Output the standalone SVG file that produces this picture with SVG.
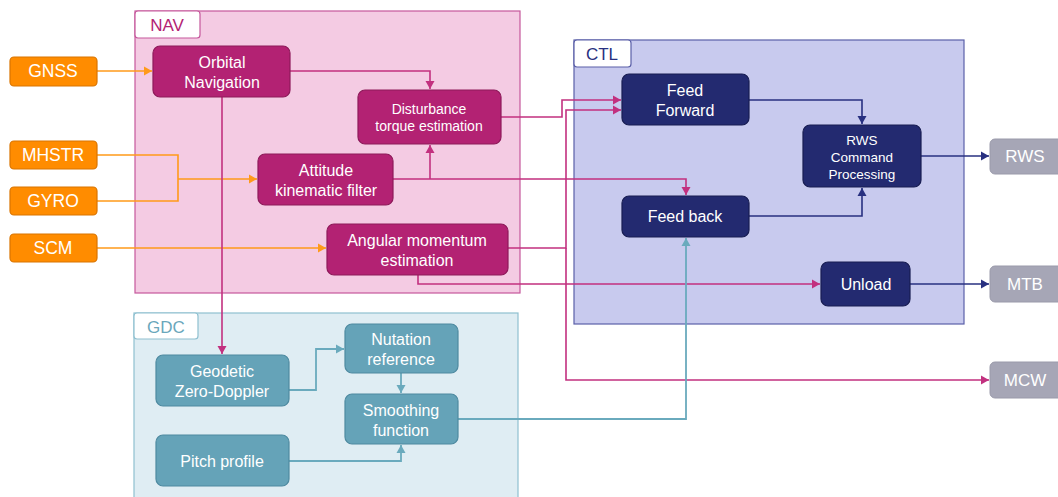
<svg xmlns="http://www.w3.org/2000/svg" width="1058" height="497" viewBox="0 0 1058 497">
<style>
text{font-family:"Liberation Sans",Arial,sans-serif;fill:#fff;text-anchor:middle;dominant-baseline:central}
.nav{fill:#b32273;stroke:#8e1a5a;stroke-width:1.2}
.ctl{fill:#232a70;stroke:#181d52;stroke-width:1.2}
.gdc{fill:#65a3b8;stroke:#4e8aa0;stroke-width:1.2}
.inp{fill:#ff8c00;stroke:#d97400;stroke-width:1.2}
.out{fill:#a6a6b6;stroke:#9a9aaa;stroke-width:1}
.t16{font-size:16px}
.t14{font-size:14px}
.t13{font-size:13.5px}
.t17{font-size:17.5px}
.tl{font-size:17px}
.cm{fill:none;stroke:#c2307f;stroke-width:1.6}
.co{fill:none;stroke:#ff9a1a;stroke-width:1.6}
.cn{fill:none;stroke:#283080;stroke-width:1.6}
.cg{fill:none;stroke:#6aaabd;stroke-width:1.8}
</style>
<defs>
<marker id="am" markerUnits="userSpaceOnUse" markerWidth="10" markerHeight="10" refX="8" refY="5" orient="auto"><path d="M0,0.5 L8,5 L0,9.5 Z" fill="#c2307f"/></marker>
<marker id="ao" markerUnits="userSpaceOnUse" markerWidth="10" markerHeight="10" refX="8" refY="5" orient="auto"><path d="M0,0.5 L8,5 L0,9.5 Z" fill="#ff9a1a"/></marker>
<marker id="an" markerUnits="userSpaceOnUse" markerWidth="10" markerHeight="10" refX="8" refY="5" orient="auto"><path d="M0,0.5 L8,5 L0,9.5 Z" fill="#283080"/></marker>
<marker id="ag" markerUnits="userSpaceOnUse" markerWidth="10" markerHeight="10" refX="8" refY="5" orient="auto"><path d="M0,0.5 L8,5 L0,9.5 Z" fill="#6aaabd"/></marker>
</defs>

<g id="NAV-group">
<rect x="135" y="11" width="385" height="282" fill="#f4cbe3" stroke="#c5589c" stroke-width="1.2"/>
<rect x="135" y="11" width="65" height="27" rx="3" fill="#fff" stroke="#c5589c" stroke-width="1.2"/>
<text x="167" y="25" class="tl" style="fill:#b32273">NAV</text>
</g>
<g id="CTL-group">
<rect x="574" y="40" width="390" height="284" fill="#c8caee" stroke="#5a5fa8" stroke-width="1.2"/>
<rect x="574" y="40" width="57" height="27" rx="3" fill="#fff" stroke="#5a5fa8" stroke-width="1.2"/>
<text x="602" y="54" class="tl" style="fill:#283080">CTL</text>
</g>
<g id="GDC-group">
<rect x="134" y="313" width="384" height="190" fill="#dfedf3" stroke="#8fc0d0" stroke-width="1.2"/>
<rect x="134" y="313" width="64" height="26" rx="3" fill="#fff" stroke="#8fc0d0" stroke-width="1.2"/>
<text x="166" y="327" class="tl" style="fill:#6aa7bb">GDC</text>
</g>

<g id="connectors">
<path class="co" d="M97,71 H152" marker-end="url(#ao)"/>
<path class="co" d="M97,155 H178 V201 H97"/>
<path class="co" d="M178,179 H257" marker-end="url(#ao)"/>
<path class="co" d="M97,248 H326" marker-end="url(#ao)"/>
<path class="cm" d="M290,71 H430 V89" marker-end="url(#am)"/>
<path class="cm" d="M393,179 H686 V195" marker-end="url(#am)"/>
<path class="cm" d="M430,179 V145" marker-end="url(#am)"/>
<path class="cm" d="M501,117 H562 V100 H621" marker-end="url(#am)"/>
<path class="cm" d="M508,248 H566 V110 H621" marker-end="url(#am)"/>
<path class="cm" d="M566,248 V380 H989" marker-end="url(#am)"/>
<path class="cm" d="M418,275 V284 H820" marker-end="url(#am)"/>
<path class="cm" d="M222,97 V354" marker-end="url(#am)"/>
<path class="cn" d="M749,100 H862 V124" marker-end="url(#an)"/>
<path class="cn" d="M749,216 H862 V188" marker-end="url(#an)"/>
<path class="cn" d="M921,156 H989" marker-end="url(#an)"/>
<path class="cn" d="M910,284 H989" marker-end="url(#an)"/>
<path class="cg" d="M289,390 H316 V349 H344" marker-end="url(#ag)"/>
<path class="cg" d="M401,373 V393" marker-end="url(#ag)"/>
<path class="cg" d="M289,461 H401 V445" marker-end="url(#ag)"/>
<path class="cg" d="M458,419 H686 V238" marker-end="url(#ag)"/>
</g>

<g id="GNSS"><rect class="inp" x="10" y="57" width="87" height="29" rx="4"/><text x="53" y="71" class="t17">GNSS</text></g>
<g id="MHSTR"><rect class="inp" x="10" y="141" width="87" height="28" rx="4"/><text x="53" y="155" class="t17">MHSTR</text></g>
<g id="GYRO"><rect class="inp" x="10" y="187" width="87" height="28" rx="4"/><text x="53" y="201" class="t17">GYRO</text></g>
<g id="SCM"><rect class="inp" x="10" y="234" width="87" height="28" rx="4"/><text x="53" y="248" class="t17">SCM</text></g>

<g id="orbital-navigation"><rect class="nav" x="153" y="46" width="137" height="51" rx="7"/><text x="222" y="62" class="t16">Orbital</text><text x="222" y="82" class="t16">Navigation</text></g>
<g id="disturbance-torque"><rect class="nav" x="358" y="90" width="143" height="54" rx="7"/><text x="429" y="109" class="t14">Disturbance</text><text x="429" y="126" class="t14">torque estimation</text></g>
<g id="attitude-filter"><rect class="nav" x="258" y="154" width="135" height="51" rx="7"/><text x="326" y="170" class="t16">Attitude</text><text x="326" y="190" class="t16">kinematic filter</text></g>
<g id="angular-momentum"><rect class="nav" x="327" y="224" width="181" height="51" rx="7"/><text x="417" y="240" class="t16">Angular momentum</text><text x="417" y="260" class="t16">estimation</text></g>

<g id="feed-forward"><rect class="ctl" x="622" y="74" width="127" height="51" rx="7"/><text x="685" y="90" class="t16">Feed</text><text x="685" y="110" class="t16">Forward</text></g>
<g id="feed-back"><rect class="ctl" x="622" y="196" width="127" height="41" rx="7"/><text x="685" y="216" class="t16">Feed back</text></g>
<g id="rws-command"><rect class="ctl" x="803" y="125" width="118" height="62" rx="7"/><text x="862" y="140" class="t13">RWS</text><text x="862" y="157" class="t13">Command</text><text x="862" y="174" class="t13">Processing</text></g>
<g id="unload"><rect class="ctl" x="821" y="262" width="89" height="44" rx="7"/><text x="866" y="284" class="t16">Unload</text></g>

<g id="RWS"><rect class="out" x="990" y="139" width="75" height="35" rx="5"/><text x="1025" y="156" class="tl">RWS</text></g>
<g id="MTB"><rect class="out" x="990" y="266" width="75" height="36" rx="5"/><text x="1025" y="284" class="tl">MTB</text></g>
<g id="MCW"><rect class="out" x="990" y="362" width="75" height="36" rx="5"/><text x="1025" y="380" class="tl">MCW</text></g>

<g id="geodetic"><rect class="gdc" x="156" y="355" width="133" height="51" rx="7"/><text x="222" y="371" class="t16">Geodetic</text><text x="222" y="391" class="t16">Zero-Doppler</text></g>
<g id="nutation"><rect class="gdc" x="345" y="324" width="113" height="49" rx="7"/><text x="401" y="339" class="t16">Nutation</text><text x="401" y="359" class="t16">reference</text></g>
<g id="smoothing"><rect class="gdc" x="345" y="394" width="113" height="50" rx="7"/><text x="401" y="410" class="t16">Smoothing</text><text x="401" y="430" class="t16">function</text></g>
<g id="pitch-profile"><rect class="gdc" x="156" y="435" width="133" height="51" rx="7"/><text x="222" y="461" class="t16">Pitch profile</text></g>
</svg>
